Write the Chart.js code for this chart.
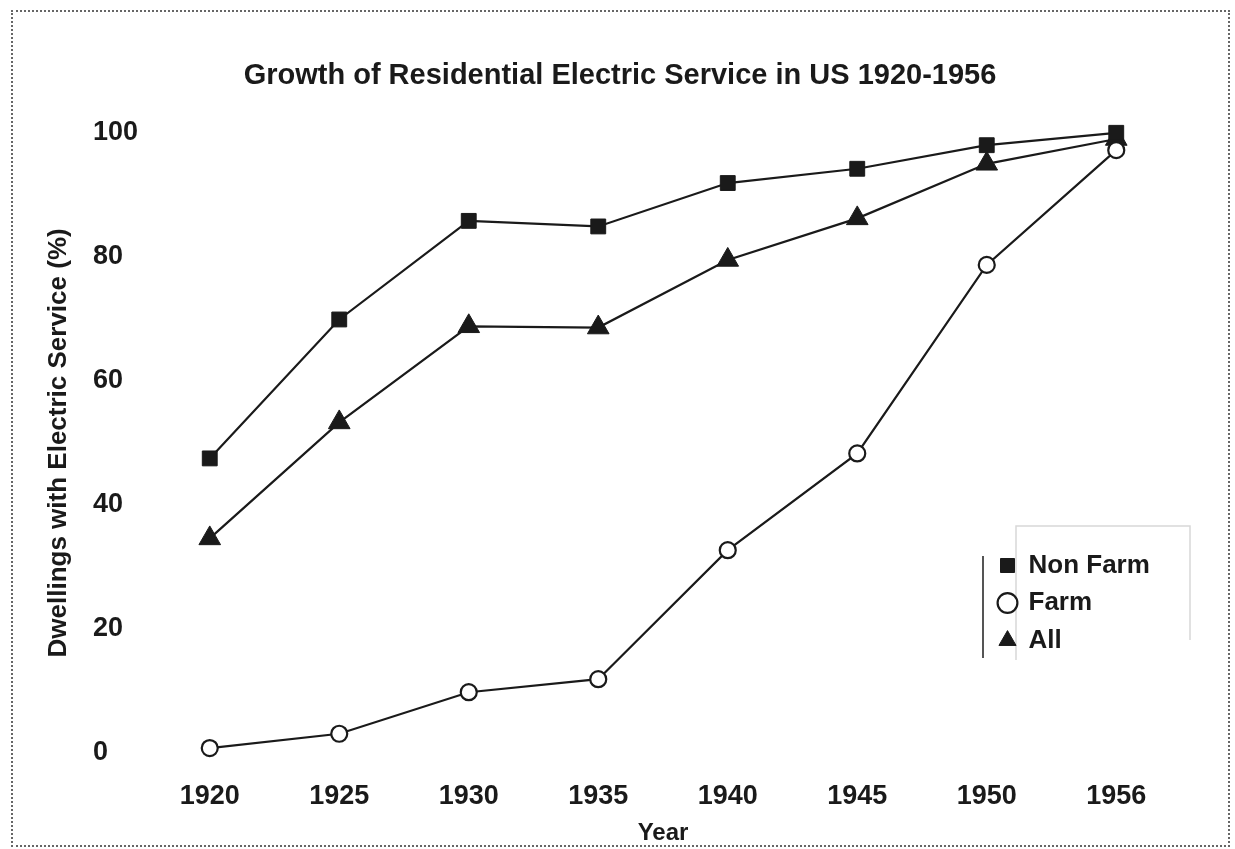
<!DOCTYPE html>
<html>
<head>
<meta charset="utf-8">
<title>Growth of Residential Electric Service in US 1920-1956</title>
<script src="https://cdn.jsdelivr.net/npm/chart.js@4.4.1/dist/chart.umd.min.js"></script>
<style>
  html, body { margin: 0; padding: 0; background: #fff; }
  #wrap { position: relative; width: 1235px; height: 849px; }
  #frame {
    position: absolute; left: 11px; top: 10px; width: 1215px; height: 833px;
    border: 2px dotted #666; pointer-events: none;
  }
</style>
</head>
<body>
<div id="wrap">
  <canvas id="myChart" width="1235" height="849"></canvas>
  <div id="frame"></div>
</div>
<script>
// data
const years = ["1920", "1925", "1930", "1935", "1940", "1945", "1950", "1956"];
const nonFarm = [47.5, 69.9, 85.8, 84.9, 91.9, 94.2, 98.0, 100];
const farm = [0.8, 3.1, 9.8, 11.9, 32.7, 48.3, 78.7, 97.2];
const all = [34.6, 53.3, 68.8, 68.6, 79.5, 86.2, 95.0, 99.0];
const yTicks = [0, 20, 40, 60, 80, 100];

const ink = "#1a1a1a";
const font = "'Liberation Sans', Arial, Helvetica, sans-serif";

// move legend + title where the scan has them
const placeBlocks = {
  id: "placeBlocks",
  afterLayout(chart) {
    const lg = chart.legend;
    if (lg) {
      lg.left = 988;
      lg.top = 541;
      lg.right = lg.left + lg.width;
      lg.bottom = lg.top + lg.height;
    }
    const tb = chart.titleBlock;
    if (tb) {
      tb.left = 0;
      tb.right = 1240;
    }
  },
  beforeDraw(chart) {
    // faint box left over around the legend in the scan
    const ctx = chart.ctx;
    ctx.save();
    ctx.strokeStyle = "#d8d8d8";
    ctx.lineWidth = 1.5;
    ctx.beginPath();
    ctx.moveTo(1016, 660);
    ctx.lineTo(1016, 526);
    ctx.lineTo(1190, 526);
    ctx.lineTo(1190, 640);
    ctx.stroke();
    ctx.strokeStyle = "#555";
    ctx.lineWidth = 2;
    ctx.beginPath();
    ctx.moveTo(983, 556);
    ctx.lineTo(983, 658);
    ctx.stroke();
    ctx.restore();
  }
};

new Chart(document.getElementById("myChart").getContext("2d"), {
  type: "line",
  data: {
    labels: years,
    datasets: [
      {
        label: "Non Farm",
        data: nonFarm,
        clip: false,
        borderColor: ink,
        backgroundColor: ink,
        borderWidth: 2.2,
        pointStyle: "rect",
        pointRadius: 10.5,
        pointBackgroundColor: ink,
        pointBorderColor: ink,
        pointBorderWidth: 1,
      },
      {
        label: "Farm",
        data: farm,
        clip: false,
        borderColor: ink,
        backgroundColor: "#fff",
        borderWidth: 2.2,
        pointStyle: "circle",
        pointRadius: 8,
        pointBackgroundColor: "#fff",
        pointBorderColor: ink,
        pointBorderWidth: 2.2,
      },
      {
        label: "All",
        data: all,
        clip: false,
        borderColor: ink,
        backgroundColor: ink,
        borderWidth: 2.2,
        pointStyle: "triangle",
        pointRadius: 12.5,
        pointBackgroundColor: ink,
        pointBorderColor: ink,
        pointBorderWidth: 1,
      },
    ],
  },
  options: {
    responsive: false,
    animation: false,
    layout: { padding: { left: 93, right: 54, top: 0, bottom: 0 } },
    plugins: {
      title: {
        display: true,
        text: "Growth of Residential Electric Service in US 1920-1956",
        color: ink,
        font: { family: font, size: 29, weight: "bold" },
        padding: { top: 59, bottom: 39 },
      },
      legend: {
        position: "chartArea",
        align: "start",
        labels: {
          usePointStyle: true,
          boxWidth: 16,
          boxHeight: 14,
          padding: 11.5,
          color: ink,
          font: { family: font, size: 26, weight: "bold" },
        },
      },
      tooltip: { enabled: false },
    },
    scales: {
      x: {
        offset: true,
        grid: { display: false, drawTicks: false },
        border: { display: false },
        ticks: {
          color: ink,
          padding: 27,
          font: { family: font, size: 27, weight: "bold" },
        },
        title: {
          display: true,
          text: "Year",
          color: ink,
          font: { family: font, size: 24, weight: "bold" },
          padding: { top: 0, bottom: 1 },
        },
        afterFit(scale) { scale.height = 96; },
      },
      y: {
        min: 0,
        max: 100,
        afterBuildTicks(scale) { scale.ticks = yTicks.map(v => ({ value: v })); },
        grid: { display: false, drawTicks: false },
        border: { display: false },
        ticks: {
          color: ink,
          crossAlign: "far",
          font: { family: font, size: 27, weight: "bold" },
        },
        title: {
          display: true,
          text: "Dwellings with Electric Service (%)",
          color: ink,
          font: { family: font, size: 26, weight: "bold" },
          padding: { top: -50, bottom: 0 },
        },
        afterFit(scale) { scale.width = 52; },
      },
    },
  },
  plugins: [placeBlocks],
});
</script>
</body>
</html>
